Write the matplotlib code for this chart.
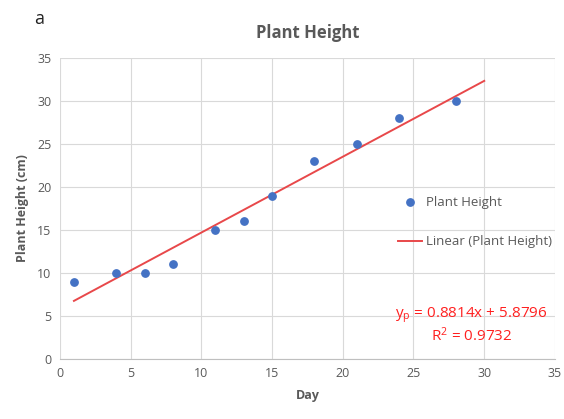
import numpy as np
import matplotlib.pyplot as plt

# measured plant height by day
days = [1, 4, 6, 8, 11, 13, 15, 18, 21, 24, 28]
heights = [9, 10, 10, 11, 15, 16, 19, 23, 25, 28, 30]

# linear trend as reported on the chart
slope = 0.8814
intercept = 5.8796
r_squared = 0.9732
trend_x = [1, 30]

x_ticks = [0, 5, 10, 15, 20, 25, 30, 35]
y_ticks = [0, 5, 10, 15, 20, 25, 30, 35]

plt.rcParams["font.family"] = ["Open Sans", "DejaVu Sans"]

fig = plt.figure(figsize=(5.64, 4.19), dpi=100)
ax = fig.add_axes([0.106, 0.143, 0.878, 0.719])

trend_y = [slope * x + intercept for x in trend_x]
ax.plot(trend_x, trend_y, color="#e8484a", linewidth=1.4, label="Linear (Plant Height)", zorder=2)
ax.scatter(days, heights, s=28, color="#4472c4", label="Plant Height", zorder=3)

ax.set_xlim(0, 35)
ax.set_ylim(0, 35)
ax.set_xticks(x_ticks)
ax.set_yticks(y_ticks)
ax.grid(True, color="#d9d9d9", linewidth=0.8)
ax.set_axisbelow(True)
for side in ["top", "right", "left"]:
    ax.spines[side].set_visible(False)
ax.spines["bottom"].set_color("#bfbfbf")
ax.tick_params(length=0, labelsize=9, colors="#595959", pad=6)

ax.set_xlabel("Day", fontsize=9, fontweight="bold", color="#595959", labelpad=6)
ax.set_ylabel("Plant Height (cm)", fontsize=9, fontweight="bold", color="#595959", labelpad=6)
ax.set_title("Plant Height", fontsize=12, fontweight="bold", color="#595959", pad=14)

handles, labels = ax.get_legend_handles_labels()
leg = ax.legend(handles[::-1], labels[::-1], loc="center left", bbox_to_anchor=(0.66, 0.455),
                frameon=False, fontsize=9.5, labelspacing=2.0, handlelength=1.8, handletextpad=0.3)
for t in leg.get_texts():
    t.set_color("#595959")

ax.text(29.1, 3.95, "$\\mathregular{y_p}$ = 0.8814x + 5.8796\nR$\\mathregular{^2}$ = 0.9732",
        color="#ff2020", fontsize=11, ha="center", va="center", linespacing=1.1)

fig.text(0.07, 0.955, "a", fontsize=13, color="#222222", ha="center", va="center")

fig.savefig("out.png", dpi=100)
